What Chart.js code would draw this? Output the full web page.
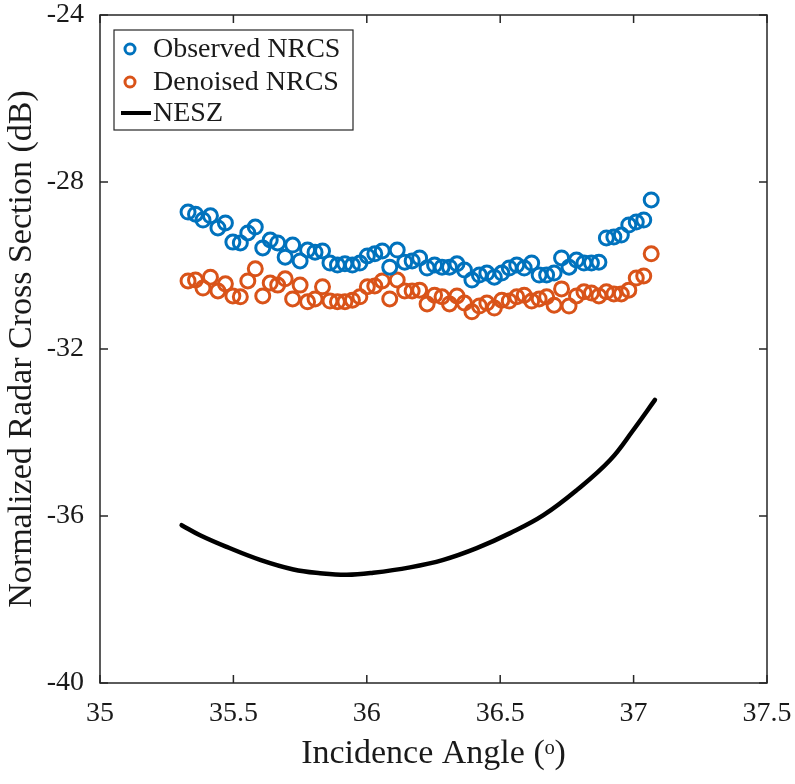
<!DOCTYPE html>
<html>
<head>
<meta charset="utf-8">
<script src="https://cdn.jsdelivr.net/npm/chart.js@4.4.1/dist/chart.umd.min.js"></script>
<style>
html,body{margin:0;padding:0;background:#fff;}
#wrap{width:795px;height:784px;position:relative;}
</style>
</head>
<body>
<div id="wrap"><canvas id="c" width="795" height="784"></canvas></div>
<script>
// ---- Data ----
const angles = [35.330,35.358,35.386,35.414,35.442,35.470,35.498,35.526,35.554,35.582,
35.610,35.638,35.666,35.694,35.722,35.750,35.778,35.806,35.834,35.862,
35.890,35.918,35.946,35.974,36.002,36.030,36.058,36.086,36.114,36.142,
36.170,36.198,36.226,36.254,36.282,36.310,36.338,36.366,36.394,36.422,
36.450,36.478,36.506,36.534,36.562,36.590,36.618,36.646,36.674,36.702,
36.730,36.758,36.786,36.814,36.842,36.870,36.898,36.926,36.954,36.982,
37.010,37.038,37.066];
const observedNRCS = [-28.72,-28.77,-28.91,-28.81,-29.10,-28.98,-29.44,-29.46,-29.22,-29.08,
-29.58,-29.39,-29.46,-29.80,-29.51,-29.89,-29.63,-29.68,-29.65,-29.94,
-29.99,-29.96,-29.99,-29.94,-29.77,-29.72,-29.65,-30.04,-29.63,-29.92,
-29.89,-29.82,-30.06,-29.99,-30.04,-30.04,-29.96,-30.11,-30.35,-30.23,
-30.18,-30.28,-30.18,-30.06,-29.99,-30.06,-29.94,-30.23,-30.23,-30.18,
-29.82,-30.04,-29.87,-29.94,-29.94,-29.92,-29.34,-29.32,-29.27,-29.03,
-28.96,-28.91,-28.43];
const denoisedNRCS = [-30.37,-30.35,-30.54,-30.28,-30.61,-30.44,-30.73,-30.75,-30.37,-30.08,
-30.73,-30.42,-30.47,-30.32,-30.80,-30.47,-30.87,-30.80,-30.51,-30.85,
-30.87,-30.87,-30.83,-30.75,-30.51,-30.49,-30.37,-30.80,-30.35,-30.61,
-30.61,-30.59,-30.92,-30.71,-30.75,-30.92,-30.73,-30.90,-31.11,-30.97,
-30.90,-31.02,-30.83,-30.85,-30.75,-30.71,-30.85,-30.80,-30.75,-30.95,
-30.56,-30.97,-30.73,-30.63,-30.66,-30.73,-30.63,-30.68,-30.68,-30.59,
-30.30,-30.25,-29.72];
const neszAngles = [35.306,35.375,35.475,35.600,35.725,35.825,35.925,36.024,36.162,36.287,
36.412,36.537,36.662,36.787,36.912,36.999,37.080];
const neszValues = [-36.22,-36.46,-36.74,-37.05,-37.28,-37.37,-37.41,-37.36,-37.23,-37.05,
-36.77,-36.41,-35.98,-35.38,-34.66,-33.94,-33.22];
const xTicks = [35, 35.5, 36, 36.5, 37, 37.5];
const xTickLabels = ['35','35.5','36','36.5','37','37.5'];
const yTicks = [-40, -36, -32, -28, -24];
const yTickLabels = ['-40','-36','-32','-28','-24'];
const seriesNames = ['Observed NRCS','Denoised NRCS','NESZ'];

const BLUE = '#0072BD', ORANGE = '#D95319', INK = '#1a1a1a';
const FONT = '"Liberation Serif","Times New Roman",serif';

const toPts = (xs, ys) => xs.map((x,i)=>({x:x, y:ys[i]}));

// inward ticks + box
const boxPlugin = {
  id:'box',
  afterDraw(chart){
    const {ctx, chartArea:a, scales:{x, y}} = chart;
    ctx.save();
    ctx.strokeStyle = '#262626';
    ctx.lineWidth = 1.5;
    ctx.strokeRect(a.left, a.top, a.right-a.left, a.bottom-a.top);
    const L = 8;
    ctx.beginPath();
    xTicks.forEach(v=>{
      const px = x.getPixelForValue(v);
      ctx.moveTo(px, a.bottom); ctx.lineTo(px, a.bottom-L);
      ctx.moveTo(px, a.top); ctx.lineTo(px, a.top+L);
    });
    yTicks.forEach(v=>{
      const py = y.getPixelForValue(v);
      ctx.moveTo(a.left, py); ctx.lineTo(a.left+L, py);
      ctx.moveTo(a.right, py); ctx.lineTo(a.right-L, py);
    });
    ctx.stroke();
    ctx.restore();
  }
};

// legend inside plot (MATLAB style)
const legendPlugin = {
  id:'insideLegend',
  afterDraw(chart){
    const {ctx, chartArea:a} = chart;
    const bx = a.left + 14, by = a.top + 15, bw = 239, bh = 100;
    ctx.save();
    ctx.fillStyle = '#fff';
    ctx.fillRect(bx, by, bw, bh);
    ctx.strokeStyle = '#262626';
    ctx.lineWidth = 1.2;
    ctx.strokeRect(bx, by, bw, bh);
    const rows = [by+19, by+52, by+83];
    const ds = chart.data.datasets;
    ctx.font = '28px ' + FONT;
    ctx.textBaseline = 'middle';
    ctx.textAlign = 'left';
    ds.forEach((d,i)=>{
      const cy = rows[i];
      if (i < 2) {
        ctx.beginPath();
        ctx.strokeStyle = d.borderColor;
        ctx.lineWidth = 3;
        ctx.arc(bx+16, cy, 5, 0, Math.PI*2);
        ctx.stroke();
      } else {
        ctx.beginPath();
        ctx.strokeStyle = d.borderColor;
        ctx.lineWidth = 4;
        ctx.moveTo(bx+7, cy); ctx.lineTo(bx+37, cy);
        ctx.stroke();
      }
      ctx.fillStyle = INK;
      ctx.fillText(d.label, bx+39, cy+1);
    });
    ctx.restore();
  }
};

new Chart(document.getElementById('c'), {
  type:'scatter',
  data:{
    datasets:[
      {label:seriesNames[0], data:toPts(angles, observedNRCS), showLine:false,
       pointStyle:'circle', pointRadius:7, pointBorderWidth:3,
       borderColor:BLUE, backgroundColor:'rgba(0,0,0,0)', pointBackgroundColor:'rgba(0,0,0,0)', pointBorderColor:BLUE, order:2},
      {label:seriesNames[1], data:toPts(angles, denoisedNRCS), showLine:false,
       pointStyle:'circle', pointRadius:7, pointBorderWidth:3,
       borderColor:ORANGE, backgroundColor:'rgba(0,0,0,0)', pointBackgroundColor:'rgba(0,0,0,0)', pointBorderColor:ORANGE, order:3},
      {label:seriesNames[2], data:toPts(neszAngles, neszValues), showLine:true,
       borderColor:'#000', borderWidth:4.5, pointRadius:0, fill:false,
       tension:0.4, borderCapStyle:'round', order:1}
    ]
  },
  options:{
    responsive:false, animation:false,
    layout:{padding:{top:15, right:28, left:0, bottom:0}},
    plugins:{legend:{display:false}, tooltip:{enabled:false}},
    scales:{
      x:{
        type:'linear', min:35, max:37.5,
        afterBuildTicks: s => { s.ticks = xTicks.map(v=>({value:v})); },
        afterFit: s => { s.height = 101; s.paddingLeft = 0; s.paddingRight = 0; },
        grid:{display:false, drawTicks:false},
        border:{display:false},
        ticks:{color:INK, padding:14, font:{family:FONT, size:28},
               callback:(v)=> xTickLabels[xTicks.indexOf(v)], maxRotation:0, autoSkip:false},
        title:{display:true, text:'Incidence Angle (ᵒ)', color:INK,
               font:{family:FONT, size:34}, padding:{top:0, bottom:10}}
      },
      y:{
        type:'linear', min:-40, max:-24,
        afterBuildTicks: s => { s.ticks = yTicks.map(v=>({value:v})); },
        afterFit: s => { s.width = 100; s.paddingTop = 0; s.paddingBottom = 0; },
        grid:{display:false, drawTicks:false},
        border:{display:false},
        ticks:{color:INK, padding:16, font:{family:FONT, size:28},
               callback:(v)=> yTickLabels[yTicks.indexOf(v)], autoSkip:false},
        title:{display:true, text:'Normalized Radar Cross Section (dB)', color:INK,
               font:{family:FONT, size:34}, padding:{top:2, bottom:0}}
      }
    }
  },
  plugins:[boxPlugin, legendPlugin]
});
</script>
</body>
</html>
